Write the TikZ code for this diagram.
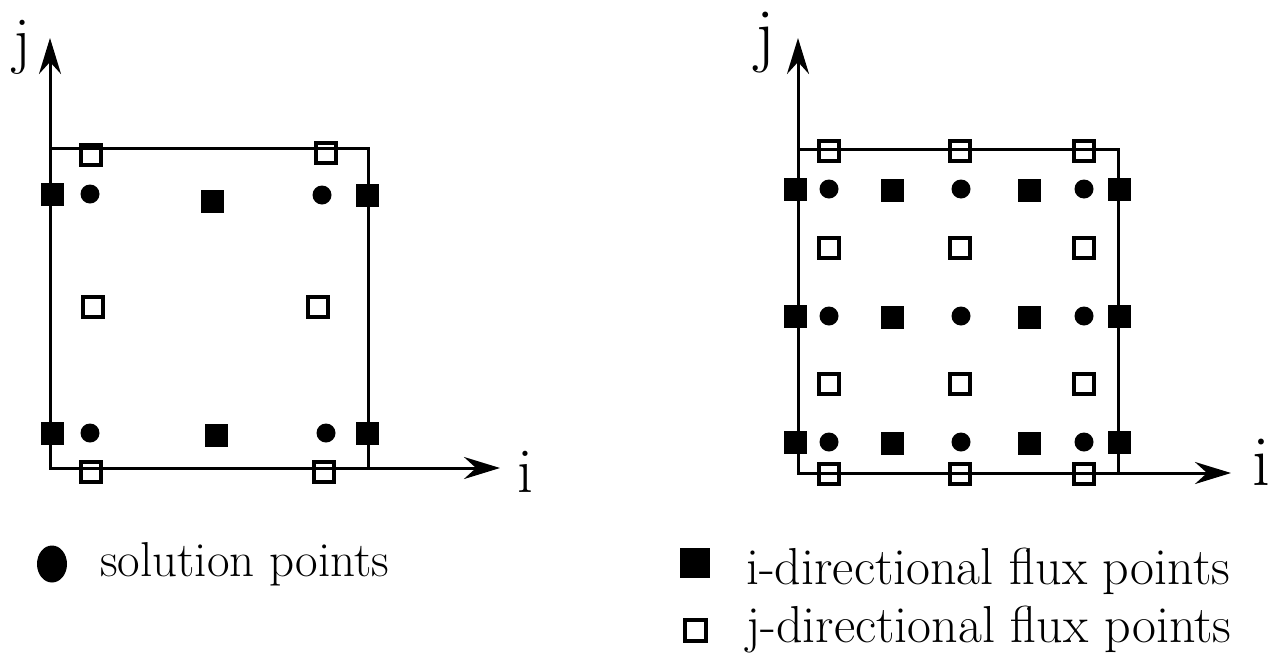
\documentclass[tikz,border=0pt]{standalone}
\usetikzlibrary{arrows.meta,shapes.geometric}
\begin{document}
\begin{tikzpicture}[x=1pt,y=-1pt,
  fsq/.style={rectangle,fill=black,minimum size=23pt,inner sep=0pt},
  osq/.style={rectangle,draw=black,line width=3.5pt,minimum size=20pt,inner sep=0pt},
  dotpt/.style={circle,fill=black,minimum size=19pt,inner sep=0pt},
  axes/.style={line width=3pt,line join=miter,{Stealth[length=36pt,width=22pt,inset=12pt]}-{Stealth[length=36pt,width=22pt,inset=12pt]}},
  celledge/.style={line width=3pt,line join=miter},
  axlblL/.style={inner sep=0pt,anchor=base,font=\fontsize{64}{70}\selectfont},
  axlblR/.style={inner sep=0pt,anchor=base,font=\fontsize{72}{80}\selectfont},
  legtext/.style={inner sep=0pt,anchor=base west,font=\fontsize{52}{58}\selectfont}]
\useasboundingbox (0,0) rectangle (1271,667);

% ---------------- left panel ----------------
\coordinate (LO) at (50,468);
\coordinate (LJ) at (50,38);
\coordinate (LI) at (500,468);
\coordinate (LTL) at (50,148);
\coordinate (LTR) at (368,148);
\coordinate (LBR) at (368,468);
\draw[celledge] (LTL) -- (LTR) -- (LBR);
\draw[axes] (LJ) -- (LO) -- (LI);
\node[axlblL] (Lj) at (22,61) {j};
\node[axlblL] (Li) at (525,492) {i};

\node[dotpt] (ld1) at (90,194) {};
\node[dotpt] (ld2) at (322,195) {};
\node[dotpt] (ld3) at (90,433) {};
\node[dotpt] (ld4) at (326,433) {};

\node[fsq] (lf1) at (52,194) {};
\node[fsq] (lf2) at (212,201) {};
\node[fsq] (lf3) at (367,195) {};
\node[fsq] (lf4) at (52,433) {};
\node[fsq] (lf5) at (216,435) {};
\node[fsq] (lf6) at (367,433) {};

\node[osq] (lo1) at (91,155) {};
\node[osq] (lo2) at (326,153) {};
\node[osq] (lo3) at (93,307) {};
\node[osq] (lo4) at (318,307) {};
\node[osq] (lo5) at (91,472) {};
\node[osq] (lo6) at (324,472) {};

% ---------------- right panel ----------------
\coordinate (RO) at (798,473);
\coordinate (RJ) at (798,38);
\coordinate (RI) at (1231,473);
\coordinate (RTL) at (798,149);
\coordinate (RTR) at (1118,149);
\coordinate (RBR) at (1118,473);
\draw[celledge] (RTL) -- (RTR) -- (RBR);
\draw[axes] (RJ) -- (RO) -- (RI);
\node[axlblR] (Rj) at (765,58) {j};
\node[axlblR] (Ri) at (1261,485) {i};

% solution/flux rows
\foreach \r/\y in {1/189,2/316,3/442}{
  \node[fsq] (rfa\r) at (795,\y) {};
  \node[dotpt] (rda\r) at (829,\y) {};
  \node[fsq] (rfb\r) at (892,\y+1) {};
  \node[dotpt] (rdb\r) at (961,\y) {};
  \node[fsq] (rfc\r) at (1029,\y+1) {};
  \node[dotpt] (rdc\r) at (1084,\y) {};
  \node[fsq] (rfd\r) at (1119,\y) {};
}
% j-flux rows
\foreach \r/\y in {1/151,2/248,3/384,4/474}{
  \node[osq] (roa\r) at (829,\y) {};
  \node[osq] (rob\r) at (960,\y) {};
  \node[osq] (roc\r) at (1084,\y) {};
}

% ---------------- legend ----------------
\node[ellipse,fill=black,minimum width=30pt,minimum height=37pt,inner sep=0pt] (legdot) at (52,564) {};
\node[legtext,font=\fontsize{49}{56}\selectfont] (legsol) at (100,576) {solution points};
\node[rectangle,fill=black,minimum size=30pt,inner sep=0pt] (legf) at (695,563) {};
\node[legtext] (legi) at (746,584) {i-directional flux points};
\node[rectangle,draw=black,line width=4pt,minimum size=21pt,inner sep=0pt] (lego) at (695,630) {};
\node[legtext] (legj) at (746,642) {j-directional flux points};
\end{tikzpicture}
\end{document}
